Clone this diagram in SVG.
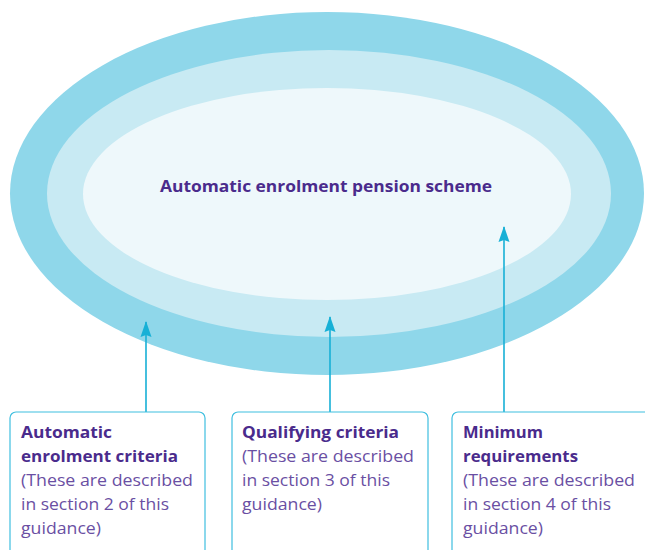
<svg xmlns="http://www.w3.org/2000/svg" width="645" height="550" viewBox="0 0 645 550">
  <defs>
    <marker id="arrow" viewBox="0 0 16 12" refX="15" refY="6" markerWidth="16" markerHeight="12" markerUnits="userSpaceOnUse" orient="auto">
      <path d="M0 0.5 L16 6 L0 11.5 L2 6 Z" fill="#17b0d6"/>
    </marker>
    <style>
      .box { fill: #ffffff; stroke: #3fbfdf; stroke-width: 1.2; }
      .conn { stroke: #17b0d6; stroke-width: 1.6; fill: none; }
      .title { font-family: "Open Sans", "Liberation Sans", sans-serif; font-weight: bold; font-size: 16px; fill: #4a2b8c; }
      .head { font-family: "Open Sans", "Liberation Sans", sans-serif; font-weight: bold; font-size: 16.5px; fill: #4a2b8c; }
      .body { font-family: "Open Sans", "Liberation Sans", sans-serif; font-size: 16.5px; fill: #6a4fa3; }
    </style>
  </defs>
  <rect width="645" height="550" fill="#ffffff"/>
  <g id="scheme">
    <ellipse cx="327" cy="193.5" rx="317" ry="181.5" fill="#8fd7ea"/>
    <ellipse cx="329" cy="193.5" rx="282" ry="143.5" fill="#c8eaf3"/>
    <ellipse cx="327" cy="194" rx="244" ry="106" fill="#eef8fb"/>
    <text class="title" x="160" y="192" textLength="332" lengthAdjust="spacingAndGlyphs">Automatic enrolment pension scheme</text>
  </g>
  <g id="connectors">
    <line class="conn" x1="146" y1="412" x2="146" y2="322" marker-end="url(#arrow)"/>
    <line class="conn" x1="330" y1="412" x2="330" y2="317" marker-end="url(#arrow)"/>
    <line class="conn" x1="504" y1="412" x2="504" y2="227" marker-end="url(#arrow)"/>
  </g>
  <g id="box-ae-criteria">
    <rect class="box" x="10" y="412" width="195" height="160" rx="6"/>
    <text class="head" x="21" y="438" textLength="91" lengthAdjust="spacingAndGlyphs">Automatic</text>
    <text class="head" x="21" y="462" textLength="157" lengthAdjust="spacingAndGlyphs">enrolment criteria</text>
    <text class="body" x="21" y="486" textLength="172" lengthAdjust="spacingAndGlyphs">(These are described</text>
    <text class="body" x="21" y="510" textLength="148" lengthAdjust="spacingAndGlyphs">in section 2 of this</text>
    <text class="body" x="21" y="534" textLength="80" lengthAdjust="spacingAndGlyphs">guidance)</text>
  </g>
  <g id="box-qualifying">
    <rect class="box" x="232" y="412" width="196" height="160" rx="6"/>
    <text class="head" x="242" y="438" textLength="157" lengthAdjust="spacingAndGlyphs">Qualifying criteria</text>
    <text class="body" x="242" y="462" textLength="172" lengthAdjust="spacingAndGlyphs">(These are described</text>
    <text class="body" x="242" y="486" textLength="148" lengthAdjust="spacingAndGlyphs">in section 3 of this</text>
    <text class="body" x="242" y="510" textLength="80" lengthAdjust="spacingAndGlyphs">guidance)</text>
  </g>
  <g id="box-minimum">
    <rect class="box" x="452" y="412" width="200" height="160" rx="6"/>
    <text class="head" x="463" y="438" textLength="80" lengthAdjust="spacingAndGlyphs">Minimum</text>
    <text class="head" x="463" y="462" textLength="115" lengthAdjust="spacingAndGlyphs">requirements</text>
    <text class="body" x="463" y="486" textLength="172" lengthAdjust="spacingAndGlyphs">(These are described</text>
    <text class="body" x="463" y="510" textLength="148" lengthAdjust="spacingAndGlyphs">in section 4 of this</text>
    <text class="body" x="463" y="534" textLength="80" lengthAdjust="spacingAndGlyphs">guidance)</text>
  </g>
</svg>
